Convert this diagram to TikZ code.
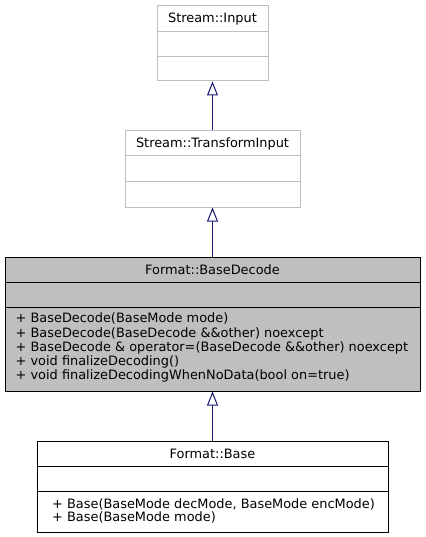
\documentclass[tikz,border=0pt]{standalone}
\usepackage{fontspec}
\setmainfont{DejaVu Sans}
\usetikzlibrary{arrows.meta}
\definecolor{edgeblue}{HTML}{191970}
\definecolor{lightborder}{HTML}{BFBFBF}
\definecolor{grayfill}{HTML}{BFBFBF}
\begin{document}
\begin{tikzpicture}[x=1pt,y=-1pt,
  classbox/.style={draw, line width=1pt, inner sep=0pt, fill=white},
  titletext/.style={font=\fontsize{12.9}{14}\selectfont, inner sep=0pt},
  membertext/.style={font=\fontsize{12.9}{14.2}\selectfont, inner sep=0pt, align=left, anchor=west},
  inherit/.style={draw=edgeblue, line width=1pt, -{Triangle[open, length=14pt, width=11pt, fill=white]}}
]
\useasboundingbox (0,0) rectangle (425,537);
% Stream::Input
\node[classbox, draw=lightborder, minimum width=111pt, minimum height=75pt] (input) at (212.5,43.5) {};
\draw[lightborder, line width=1pt] (157,31.5) -- (268,31.5) (157,56.5) -- (268,56.5);
\node[titletext] (inputtitle) at (212.5,18.75) {Stream::Input};
% Stream::TransformInput
\node[classbox, draw=lightborder, minimum width=175pt, minimum height=76pt] (transform) at (212.5,169) {};
\draw[lightborder, line width=1pt] (125,156) -- (300,156) (125,182) -- (300,182);
\node[titletext] (transformtitle) at (212.5,143.5) {Stream::TransformInput};
% Format::BaseDecode
\node[classbox, fill=grayfill, minimum width=415pt, minimum height=134pt] (decode) at (212.5,324) {};
\draw[line width=1pt] (5,282) -- (420,282) (5,307) -- (420,307);
\node[titletext] (decodetitle) at (212.5,269.5) {Format::BaseDecode};
\node[membertext] (decodemembers) at (15.5,347.75) {+ BaseDecode(BaseMode mode)\\
+ BaseDecode(BaseDecode \&\&other) noexcept\\
+ BaseDecode \& operator=(BaseDecode \&\&other) noexcept\\
+ void finalizeDecoding()\\
+ void finalizeDecodingWhenNoData(bool on=true)};
% Format::Base
\node[classbox, minimum width=351pt, minimum height=91pt] (base) at (212.5,486.5) {};
\draw[line width=1pt] (37,466) -- (388,466) (37,491) -- (388,491);
\node[titletext] (basetitle) at (212.5,453.5) {Format::Base};
\node[membertext, font=\fontsize{12.9}{13.5}\selectfont] (basemembers) at (52,510.75) {+ Base(BaseMode decMode, BaseMode encMode)\\
+ Base(BaseMode mode)};
% inheritance
\draw[inherit] (transform.north) -- (input.south);
\draw[inherit] (decode.north) -- (transform.south);
\draw[inherit] (base.north) -- (decode.south);
\end{tikzpicture}
\end{document}
